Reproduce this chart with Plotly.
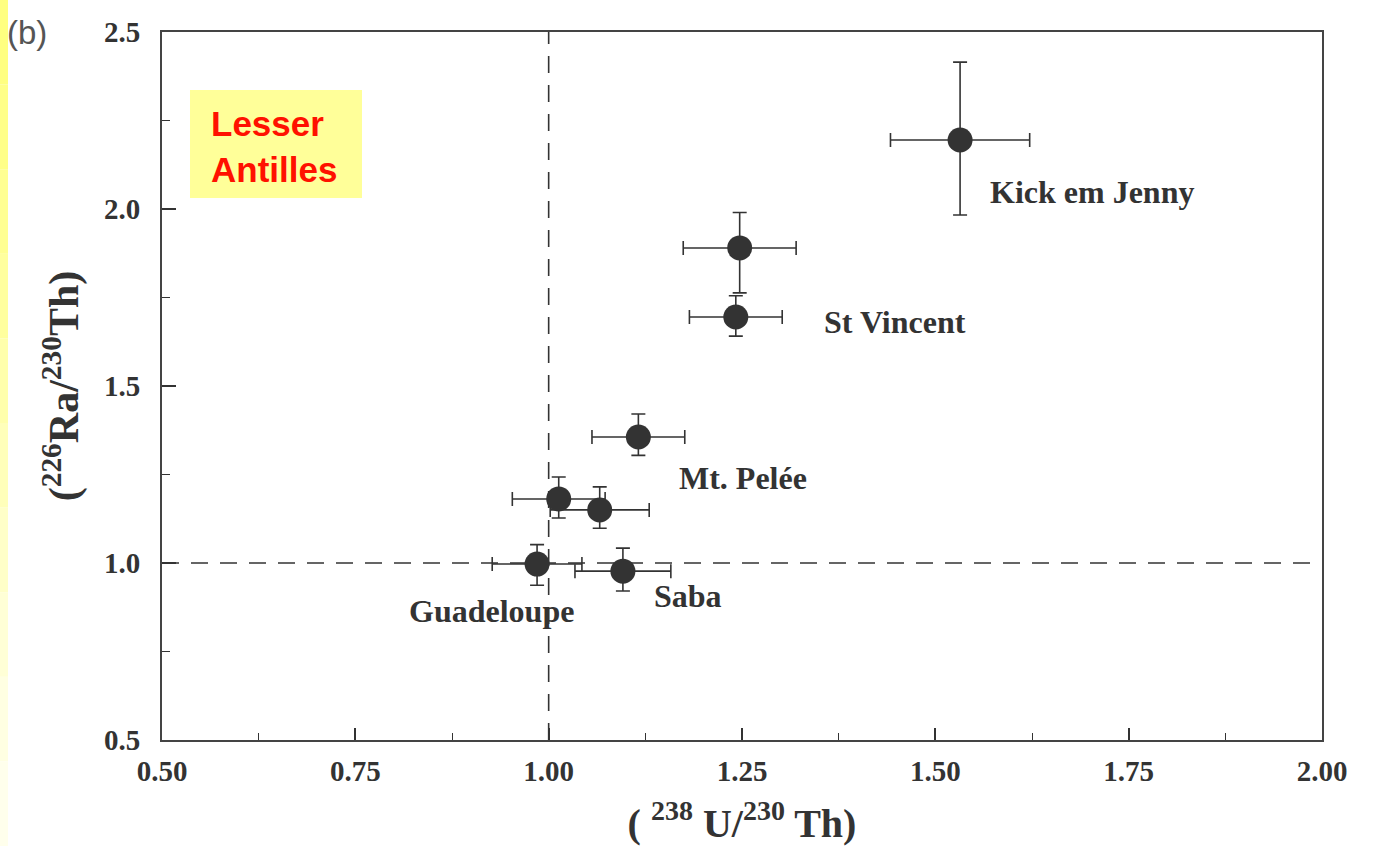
import plotly.graph_objects as go

# ---------------- data ----------------
u_th = [1.532, 1.247, 1.242, 1.116, 1.013, 1.066, 0.985, 1.096]
u_th_err = [0.090, 0.073, 0.060, 0.060, 0.060, 0.064, 0.058, 0.062]
ra_th = [2.195, 1.890, 1.695, 1.356, 1.181, 1.150, 0.997, 0.977]
ra_th_err_plus = [0.220, 0.100, 0.060, 0.065, 0.062, 0.065, 0.055, 0.065]
ra_th_err_minus = [0.212, 0.127, 0.054, 0.052, 0.054, 0.052, 0.060, 0.056]

label_text = ["Kick em Jenny", "St Vincent", "Mt. Pelée", "Guadeloupe", "Saba"]
label_x = [1.568, 1.353, 1.166, 0.817, 1.134]
label_y = [2.048, 1.681, 1.240, 0.864, 0.907]

equiline_x = 1.0
equiline_y = 1.0
x_range = [0.5, 2.0]
y_range = [0.5, 2.5]
x_ticks = [0.50, 0.75, 1.00, 1.25, 1.50, 1.75, 2.00]
x_ticktext = ["0.50", "0.75", "1.00", "1.25", "1.50", "1.75", "2.00"]
y_ticks = [0.5, 1.0, 1.5, 2.0, 2.5]
y_ticktext = ["0.5", "1.0", "1.5", "2.0", "2.5"]

# ---------------- layout helpers ----------------
W, H = 1390, 846
L, R, T, B = 162, 1322, 32, 740
def px(p):
    return (p - L) / (R - L)
def py(p):
    return (B - p) / (B - T)

INK = "#333333"
SERIF = "Liberation Serif"

fig = go.Figure()

fig.add_trace(go.Scatter(
    x=u_th, y=ra_th, mode="markers",
    marker=dict(symbol="circle", size=25, color=INK),
    error_x=dict(type="data", array=u_th_err, color=INK, thickness=1.6, width=7),
    error_y=dict(type="data", array=ra_th_err_plus, arrayminus=ra_th_err_minus,
                 symmetric=False, color=INK, thickness=1.6, width=7),
    showlegend=False, hoverinfo="x+y",
))

shapes = []
# dashed reference lines
shapes.append(dict(type="line", xref="x", yref="y", x0=equiline_x, x1=equiline_x,
                   y0=y_range[0], y1=y_range[1],
                   line=dict(color=INK, width=1.6, dash="17px,12px"), layer="below"))
shapes.append(dict(type="line", xref="x", yref="y", x0=x_range[0], x1=x_range[1],
                   y0=equiline_y, y1=equiline_y,
                   line=dict(color=INK, width=1.6, dash="17px,12px"), layer="below"))

# yellow strip at left edge (fading downward)
strip_cols = ["#FFFF80", "#FFFF88", "#FFFF92", "#FFFF9E", "#FFFFAC",
              "#FFFFBA", "#FFFFC8", "#FFFFD6", "#FFFFE2", "#FFFFEC"]
n = len(strip_cols)
for i, c in enumerate(strip_cols):
    shapes.append(dict(type="rect", xref="paper", yref="paper",
                       x0=px(0), x1=px(8), y0=py(H * (i + 1) / n), y1=py(H * i / n),
                       fillcolor=c, line=dict(width=0), layer="below"))

# yellow box behind "Lesser Antilles"
shapes.append(dict(type="rect", xref="paper", yref="paper",
                   x0=px(190), x1=px(362), y0=py(198), y1=py(90),
                   fillcolor="#FFFF99", line=dict(width=0), layer="below"))

annotations = []
for t, x, y in zip(label_text, label_x, label_y):
    annotations.append(dict(x=x, y=y, xref="x", yref="y", text=t, showarrow=False,
                            xanchor="left", yanchor="middle",
                            font=dict(family=SERIF, size=32, color=INK, weight="bold")))

annotations.append(dict(x=px(209), y=py(146), xref="paper", yref="paper",
                        text="Lesser<br>Antilles", showarrow=False, align="left",
                        xanchor="left", yanchor="middle",
                        font=dict(family="Liberation Sans", size=35, color="#FF1100",
                                  weight="bold")))

annotations.append(dict(x=px(5), y=py(33), xref="paper", yref="paper",
                        text="(b)", showarrow=False, xanchor="left", yanchor="middle",
                        font=dict(family="Liberation Sans", size=33, color="#555555")))

fig.update_layout(
    width=W, height=H, autosize=False,
    margin=dict(l=L, r=W - R, t=T, b=H - B, pad=0, autoexpand=False),
    paper_bgcolor="white", plot_bgcolor="white",
    shapes=shapes, annotations=annotations,
    xaxis=dict(
        range=x_range, tickvals=x_ticks, ticktext=x_ticktext, automargin=False,
        ticks="inside", ticklen=12, tickwidth=1.5, tickcolor=INK,
        minor=dict(ticks="inside", ticklen=7, dtick=0.125, tick0=0.5,
                   tickcolor=INK, tickwidth=1.2),
        showline=True, linecolor="#444444", linewidth=2, mirror=True,
        showgrid=False, zeroline=False,
        tickfont=dict(family=SERIF, size=29, color=INK, weight="bold"),
        ticklabelstandoff=4,
        title=dict(text="( <sup>238</sup> U/<sup>230</sup> Th)", standoff=24,
                   font=dict(family=SERIF, size=40, color=INK, weight="bold")),
    ),
    yaxis=dict(
        range=y_range, tickvals=y_ticks, ticktext=y_ticktext, automargin=False,
        ticks="inside", ticklen=14, tickwidth=1.5, tickcolor=INK,
        minor=dict(ticks="inside", ticklen=8, dtick=0.25, tick0=0.5,
                   tickcolor=INK, tickwidth=1.2),
        showline=True, linecolor="#444444", linewidth=2, mirror=True,
        showgrid=False, zeroline=False,
        tickfont=dict(family=SERIF, size=29, color=INK, weight="bold"),
        ticklabelstandoff=14,
        title=dict(text="(<sup>226</sup>Ra/<sup>230</sup>Th)", standoff=12,
                   font=dict(family=SERIF, size=42, color=INK, weight="bold")),
    ),
)

fig.write_html("out.html")
